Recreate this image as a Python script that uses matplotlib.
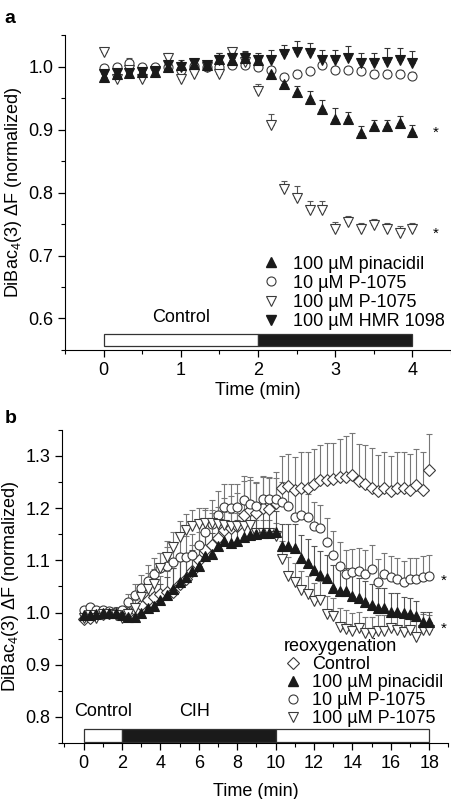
import numpy as np
import matplotlib
matplotlib.use("Agg")
import matplotlib.pyplot as plt
from matplotlib.lines import Line2D

plt.rcParams["font.family"] = ["Liberation Sans", "DejaVu Sans"]
plt.rcParams["mathtext.default"] = "regular"
plt.rcParams["font.size"] = 13

# ---- panel a: 10 s sampling over 4 min ----
t_a = np.arange(25) / 6
pin_a = [0.983, 0.989, 0.99, 0.992, 0.992, 1.0, 1.002, 1.004, 1.003, 1.012, 1.011, 1.013, 1.011,
         0.988, 0.972, 0.959, 0.948, 0.933, 0.917, 0.917, 0.894, 0.905, 0.905, 0.911, 0.896]
pin_a_err = [0.01, 0.008, 0.008, 0.008, 0.008, 0.01, 0.008, 0.008, 0.005, 0.01, 0.01, 0.012, 0.008,
             0.008, 0.011, 0.01, 0.014, 0.014, 0.017, 0.011, 0.011, 0.01, 0.011, 0.01, 0.011]
p10_a = [0.998, 1.0, 1.005, 1.0, 1.0, 1.0, 0.994, 1.001, 1.0, 1.0, 1.003, 1.003, 1.0,
         0.995, 0.983, 0.988, 0.993, 1.002, 0.995, 0.995, 0.993, 0.988, 0.988, 0.989, 0.985]
p10_a_err = [0.004, 0.004, 0.008, 0.004, 0.004, 0.005, 0.005, 0.004, 0.004, 0.004, 0.004, 0.004, 0.004,
             0.005, 0.006, 0.006, 0.005, 0.005, 0.005, 0.005, 0.005, 0.006, 0.006, 0.006, 0.006]
p100_a = [1.023, 0.98, 0.995, 0.98, 0.992, 1.013, 0.98, 0.988, 1.0, 0.989, 1.023, 1.008, 0.962,
          0.907, 0.806, 0.791, 0.773, 0.773, 0.742, 0.753, 0.742, 0.748, 0.742, 0.735, 0.742]
p100_a_err = [0.004, 0.004, 0.008, 0.006, 0.006, 0.008, 0.01, 0.006, 0.004, 0.004, 0.004, 0.005, 0.01,
              0.018, 0.013, 0.02, 0.014, 0.014, 0.011, 0.01, 0.01, 0.01, 0.01, 0.012, 0.01]
hmr_a = [0.988, 0.99, 0.99, 0.992, 0.993, 1.003, 1.0, 1.005, 1.003, 1.011, 1.013, 1.013, 1.011,
         1.011, 1.02, 1.023, 1.021, 1.011, 1.011, 1.013, 1.005, 1.005, 1.008, 1.01, 1.006]
hmr_a_err = [0.006, 0.006, 0.006, 0.006, 0.006, 0.006, 0.008, 0.006, 0.004, 0.01, 0.01, 0.01, 0.01,
             0.016, 0.014, 0.017, 0.017, 0.016, 0.016, 0.02, 0.017, 0.017, 0.022, 0.02, 0.019]
labels_a = ["100 µM pinacidil", "10 µM P-1075", "100 µM P-1075", "100 µM HMR 1098"]
phase_a_edges = [0, 2, 4]
phase_a_colors = ["white", "#1a1a1a"]
star_a = [0.895, 0.735]

# ---- panel b: 20 s sampling over 18 min ----
t_b = np.arange(55) / 3
ctrl_b = [0.988, 0.99, 0.995, 0.998, 1.0, 1.0, 0.998, 1.0, 1.005, 1.015, 1.025, 1.03, 1.035, 1.04, 1.04,
          1.055, 1.065, 1.08, 1.1, 1.12, 1.13, 1.143, 1.159, 1.162, 1.165, 1.187, 1.197, 1.19, 1.2, 1.198, 1.21,
          1.238, 1.243, 1.234, 1.238, 1.238, 1.246, 1.253, 1.253, 1.256, 1.259, 1.259, 1.264,
          1.252, 1.246, 1.239, 1.232, 1.238, 1.233, 1.239, 1.238, 1.235, 1.245, 1.235, 1.274]
ctrl_b_err = [0.01, 0.01, 0.01, 0.01, 0.01, 0.01, 0.01, 0.015, 0.02, 0.025, 0.03, 0.03, 0.035, 0.04, 0.045,
              0.045, 0.05, 0.05, 0.055, 0.055, 0.06, 0.06, 0.06, 0.062, 0.065, 0.065, 0.062, 0.06, 0.06, 0.062, 0.06,
              0.061, 0.061, 0.064, 0.069, 0.069, 0.067, 0.068, 0.071, 0.069, 0.073, 0.079, 0.08,
              0.071, 0.075, 0.077, 0.07, 0.069, 0.067, 0.068, 0.069, 0.069, 0.068, 0.072, 0.069]
pin_b = [0.996, 0.995, 0.998, 1.0, 1.0, 1.0, 0.995, 0.992, 0.991, 1.0, 1.008, 1.013, 1.024, 1.034, 1.046,
         1.059, 1.069, 1.079, 1.09, 1.109, 1.113, 1.127, 1.137, 1.134, 1.138, 1.144, 1.148, 1.151, 1.153, 1.153, 1.155,
         1.127, 1.127, 1.124, 1.104, 1.095, 1.082, 1.072, 1.066, 1.047, 1.041, 1.041, 1.032,
         1.027, 1.02, 1.014, 1.008, 1.008, 1.002, 1.002, 1.0, 0.997, 0.993, 0.982, 0.982]
pin_b_err = [0.005, 0.005, 0.005, 0.005, 0.005, 0.005, 0.005, 0.008, 0.01, 0.015, 0.02, 0.025, 0.03, 0.035, 0.04,
             0.04, 0.04, 0.04, 0.04, 0.04, 0.04, 0.04, 0.04, 0.04, 0.04, 0.04, 0.04, 0.04, 0.04, 0.04, 0.04,
             0.043, 0.043, 0.045, 0.045, 0.045, 0.045, 0.045, 0.045, 0.045, 0.045, 0.045, 0.045,
             0.04, 0.04, 0.04, 0.04, 0.04, 0.035, 0.035, 0.03, 0.03, 0.03, 0.02, 0.02]
p10_b = [1.005, 1.01, 1.005, 1.005, 1.003, 1.002, 1.005, 1.021, 1.034, 1.047, 1.061, 1.074, 1.085, 1.09, 1.096,
         1.106, 1.107, 1.11, 1.13, 1.155, 1.17, 1.187, 1.202, 1.201, 1.202, 1.216, 1.208, 1.204, 1.217, 1.217, 1.217,
         1.211, 1.205, 1.184, 1.186, 1.183, 1.166, 1.162, 1.136, 1.111, 1.09, 1.074, 1.077,
         1.079, 1.074, 1.084, 1.058, 1.074, 1.069, 1.065, 1.058, 1.065, 1.065, 1.069, 1.07]
p10_b_err = [0.005, 0.005, 0.005, 0.005, 0.005, 0.005, 0.008, 0.015, 0.02, 0.025, 0.03, 0.03, 0.03, 0.035, 0.035,
             0.04, 0.04, 0.04, 0.045, 0.045, 0.045, 0.045, 0.045, 0.045, 0.045, 0.045, 0.045, 0.045, 0.045, 0.04, 0.04,
             0.04, 0.04, 0.045, 0.045, 0.045, 0.045, 0.045, 0.045, 0.045, 0.045, 0.045, 0.045,
             0.045, 0.045, 0.045, 0.045, 0.04, 0.04, 0.04, 0.04, 0.04, 0.04, 0.04, 0.04]
p100_b = [0.99, 0.995, 0.99, 0.998, 0.997, 0.995, 0.99, 0.998, 1.008, 1.03, 1.045, 1.054, 1.085, 1.107, 1.125,
          1.145, 1.159, 1.166, 1.17, 1.172, 1.172, 1.17, 1.168, 1.165, 1.165, 1.166, 1.168, 1.152, 1.152, 1.152, 1.146,
          1.103, 1.071, 1.059, 1.044, 1.036, 1.022, 1.025, 0.997, 0.993, 0.973, 0.969, 0.965,
          0.971, 0.961, 0.961, 0.965, 0.965, 0.971, 0.966, 0.963, 0.966, 0.953, 0.967, 0.966]
p100_b_err = [0.005, 0.005, 0.005, 0.005, 0.005, 0.005, 0.008, 0.012, 0.02, 0.025, 0.03, 0.03, 0.03, 0.03, 0.03,
              0.03, 0.03, 0.03, 0.03, 0.025, 0.025, 0.025, 0.025, 0.025, 0.025, 0.025, 0.025, 0.025, 0.025, 0.025, 0.025,
              0.035, 0.035, 0.035, 0.035, 0.035, 0.035, 0.035, 0.035, 0.035, 0.035, 0.035, 0.035,
              0.03, 0.03, 0.03, 0.03, 0.03, 0.03, 0.03, 0.03, 0.03, 0.03, 0.03, 0.03]
labels_b = ["Control", "100 µM pinacidil", "10 µM P-1075", "100 µM P-1075"]
phase_b_edges = [0, 2, 10, 18]
phase_b_colors = ["white", "#1a1a1a", "white"]
star_b = [1.061, 0.969]

ink = "#1a1a1a"
open_ink = "#3a3a3a"


def series(ax, t, y, err, marker, filled, ecolor, ms=6.5, z=3):
    err = np.asarray(err)
    ax.errorbar(t, y, yerr=[np.zeros_like(err), err], fmt="none", ecolor=ecolor,
                elinewidth=0.8, capsize=2.5, capthick=0.8, zorder=z)
    ax.plot(t, y, linestyle="none", marker=marker, ms=ms,
            mfc=ink if filled else "white", mec=ink if filled else open_ink,
            mew=0.8, zorder=z + 0.5)


def style_axes(ax, pad):
    for side in ("top", "right"):
        ax.spines[side].set_visible(False)
    ax.tick_params(which="major", direction="out", length=5, width=0.9, labelsize=13)
    ax.tick_params(which="minor", direction="out", length=3, width=0.8)
    ax.set_ylabel("DiBac$_4$(3) ΔF (normalized)", fontsize=13, labelpad=3)
    ax.set_xlabel("Time (min)", fontsize=13, labelpad=pad)


def phase_bar(ax, edges, colors, y0, h):
    for left, right, c in zip(edges[:-1], edges[1:], colors):
        ax.add_patch(plt.Rectangle((left, y0), right - left, h, facecolor=c,
                                   edgecolor="#333333", lw=0.9, zorder=2))


fig = plt.figure(figsize=(4.52, 7.99), dpi=100)

# ---------------- panel a ----------------
ax = fig.add_axes([0.144, 0.562, 0.854, 0.394])
series(ax, t_a, p10_a, p10_a_err, "o", False, "#555555")
series(ax, t_a, p100_a, p100_a_err, "v", False, "#555555")
series(ax, t_a, hmr_a, hmr_a_err, "v", True, "#333333")
series(ax, t_a, pin_a, pin_a_err, "^", True, "#333333")
phase_bar(ax, phase_a_edges, phase_a_colors, 0.557, 0.018)
ax.text(1.0, 0.601, "Control", ha="center", va="center", fontsize=13)
for v in star_a:
    ax.text(4.3, v, "*", ha="center", va="center", fontsize=11)
ax.set_xlim(-0.5, 4.5)
ax.set_ylim(0.55, 1.05)
ax.set_xticks([0, 1, 2, 3, 4])
ax.set_xticks(np.arange(-0.5, 4.6, 0.5), minor=True)
ax.set_yticks([0.6, 0.7, 0.8, 0.9, 1.0])
ax.set_yticks(np.arange(0.55, 1.051, 0.05), minor=True)
ax.yaxis.set_major_formatter(matplotlib.ticker.FormatStrFormatter("%.1f"))
style_axes(ax, 2)
handles_a = [
    Line2D([], [], ls="none", marker="^", ms=6.5, mfc=ink, mec=ink),
    Line2D([], [], ls="none", marker="o", ms=6.5, mfc="white", mec=open_ink, mew=0.8),
    Line2D([], [], ls="none", marker="v", ms=6.5, mfc="white", mec=open_ink, mew=0.8),
    Line2D([], [], ls="none", marker="v", ms=6.5, mfc=ink, mec=ink),
]
ax.legend(handles_a, labels_a, loc="upper left", bbox_to_anchor=(0.51, 0.300), frameon=False,
          handlelength=1.0, handletextpad=0.72, labelspacing=0.12, borderpad=0, borderaxespad=0,
          fontsize=13)
fig.text(0.01, 0.988, "a", fontsize=14, fontweight="bold", va="top")

# ---------------- panel b ----------------
ax = fig.add_axes([0.138, 0.070, 0.854, 0.392])
series(ax, t_b, ctrl_b, ctrl_b_err, "D", False, "#777777", ms=5.8)
series(ax, t_b, p10_b, p10_b_err, "o", False, "#777777")
series(ax, t_b, p100_b, p100_b_err, "v", False, "#777777")
series(ax, t_b, pin_b, pin_b_err, "^", True, "#555555")
phase_bar(ax, phase_b_edges, phase_b_colors, 0.753, 0.023)
ax.text(1.0, 0.81, "Control", ha="center", va="center", fontsize=13)
ax.text(5.8, 0.81, "CIH", ha="center", va="center", fontsize=13)
for v in star_b:
    ax.text(18.75, v, "*", ha="center", va="center", fontsize=11)
ax.set_xlim(-1.1, 19)
ax.set_ylim(0.75, 1.35)
ax.set_xticks(np.arange(0, 19, 2))
ax.set_xticks(np.arange(-1, 19.1, 1), minor=True)
ax.set_yticks([0.8, 0.9, 1.0, 1.1, 1.2, 1.3])
ax.set_yticks(np.arange(0.75, 1.351, 0.05), minor=True)
ax.yaxis.set_major_formatter(matplotlib.ticker.FormatStrFormatter("%.1f"))
style_axes(ax, 8)
handles_b = [
    Line2D([], [], ls="none", marker="D", ms=5.8, mfc="white", mec=open_ink, mew=0.8),
    Line2D([], [], ls="none", marker="^", ms=6.5, mfc=ink, mec=ink),
    Line2D([], [], ls="none", marker="o", ms=6.5, mfc="white", mec=open_ink, mew=0.8),
    Line2D([], [], ls="none", marker="v", ms=6.5, mfc="white", mec=open_ink, mew=0.8),
]
ax.legend(handles_b, labels_b, title="reoxygenation", title_fontsize=13, alignment="left",
          loc="upper left", bbox_to_anchor=(0.574, 0.336), frameon=False,
          handlelength=1.0, handletextpad=0.54, labelspacing=0.06, borderpad=0, borderaxespad=0,
          fontsize=13)
fig.text(0.01, 0.487, "b", fontsize=14, fontweight="bold", va="top")

fig.savefig("out.png", dpi=100)
